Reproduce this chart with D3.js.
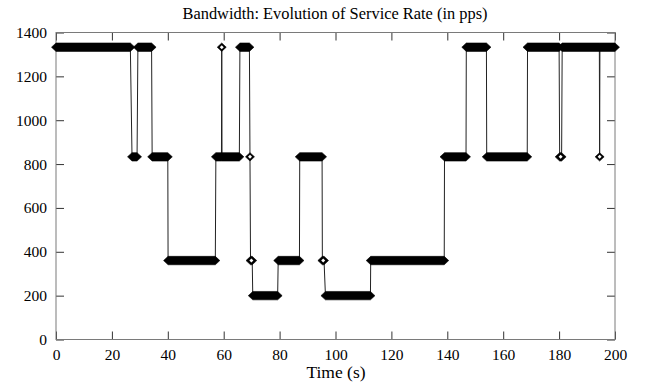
<!DOCTYPE html>
<html>
<head>
<meta charset="utf-8">
<script src="https://cdn.jsdelivr.net/npm/d3@7/dist/d3.min.js"></script>
<style>
  html, body { margin: 0; padding: 0; background: #fff; }
  svg { display: block; }
  text { font-family: "Liberation Serif", "Times New Roman", serif; fill: #000; }
</style>
</head>
<body>
<svg id="chart" width="646" height="385"></svg>
<script>
// ---- data ----
const title = "Bandwidth: Evolution of Service Rate (in pps)";
const xLabel = "Time (s)";
const xTicks = [0, 20, 40, 60, 80, 100, 120, 140, 160, 180, 200];
const yTicks = [0, 200, 400, 600, 800, 1000, 1200, 1400];
// constant-rate runs: start time, end time (s) and service rate (pps)
const segStart = [0, 27.2, 29.3, 34.4, 40.1, 57.2, 59.3, 59.4, 65.8, 69.4, 69.6, 70.4, 79.5, 87.2, 95.3, 96.4, 112.6, 139.0, 146.8, 154.1, 168.7, 180.2, 181.1, 194.5, 194.6];
const segEnd   = [26.6, 29.0, 34.2, 40.0, 57.0, 59.2, 59.3, 65.6, 69.2, 69.4, 70.2, 79.3, 87.1, 95.2, 95.9, 112.5, 138.9, 146.7, 154.0, 168.6, 180.0, 180.9, 194.4, 194.5, 200];
const segRate  = [1333, 833, 1333, 833, 360, 833, 1333, 833, 1333, 833, 360, 200, 360, 833, 360, 200, 360, 833, 1333, 833, 1333, 833, 1333, 833, 1333];

// ---- layout ----
const L = 56, R = 615, T = 32.5, B = 339.5;
const svg = d3.select("#chart");

const x = d3.scaleLinear().domain([0, 200]).range([L, R]);
const y = d3.scaleLinear().domain([0, 1400]).range([B, T]);

// title and axis label
svg.append("text").attr("x", 335).attr("y", 18.5).attr("text-anchor", "middle")
  .attr("font-size", 16.4).text(title);
svg.append("text").attr("x", 336).attr("y", 378).attr("text-anchor", "middle")
  .attr("font-size", 17.5).text(xLabel);

// axes (inward ticks on all sides)
const tickLen = 8;
const gx = svg.append("g").attr("transform", `translate(0,${B})`)
  .call(d3.axisBottom(x).tickValues(xTicks).tickSize(-tickLen).tickPadding(9).tickFormat(d3.format("d")));
const gxt = svg.append("g").attr("transform", `translate(0,${T})`)
  .call(d3.axisTop(x).tickValues(xTicks).tickSize(-tickLen).tickFormat(""));
const gy = svg.append("g").attr("transform", `translate(${L},0)`)
  .call(d3.axisLeft(y).tickValues(yTicks).tickSize(-tickLen).tickPadding(9).tickFormat(d3.format("d")));
const gyr = svg.append("g").attr("transform", `translate(${R},0)`)
  .call(d3.axisRight(y).tickValues(yTicks).tickSize(-tickLen).tickFormat(""));
[gx, gxt, gy, gyr].forEach(g => {
  g.select(".domain").remove();
  g.selectAll(".tick line").attr("stroke", "#333");
  g.selectAll("text").attr("font-size", 15.5).attr("font-family", "Liberation Serif, serif").attr("fill", "#000");
});
svg.append("rect").attr("x", L).attr("y", T).attr("width", R - L).attr("height", B - T)
  .attr("fill", "none").attr("stroke", "#7a7a7a").attr("stroke-width", 1);

// line through the runs
const pts = [];
segStart.forEach((s, i) => { pts.push([s, segRate[i]]); pts.push([segEnd[i], segRate[i]]); });
svg.append("path").datum(pts)
  .attr("fill", "none").attr("stroke", "#222").attr("stroke-width", 1)
  .attr("d", d3.line().x(d => x(d[0])).y(d => y(d[1])));

// diamond markers merged into runs
const hw = 4.5, hh = 4.2;
const runs = segStart.map((s, i) => ({ s, e: segEnd[i], v: segRate[i] }));
svg.append("g").selectAll("path").data(runs).join("path")
  .attr("fill", "#000").attr("stroke", "#000").attr("stroke-width", 0.6)
  .attr("d", d => {
    const x0 = x(d.s), x1 = x(d.e), yy = y(d.v);
    return `M${x0 - hw},${yy}L${x0},${yy - hh}L${x1},${yy - hh}L${x1 + hw},${yy}L${x1},${yy + hh}L${x0},${yy + hh}Z`;
  });
// open centre of isolated markers
svg.append("g").selectAll("path").data(runs.filter(d => d.e - d.s < 1)).join("path")
  .attr("fill", "#fff")
  .attr("d", d => {
    const cx = x((d.s + d.e) / 2), cy = y(d.v), r = 2;
    return `M${cx - r},${cy}L${cx},${cy - r}L${cx + r},${cy}L${cx},${cy + r}Z`;
  });
</script>
</body>
</html>
